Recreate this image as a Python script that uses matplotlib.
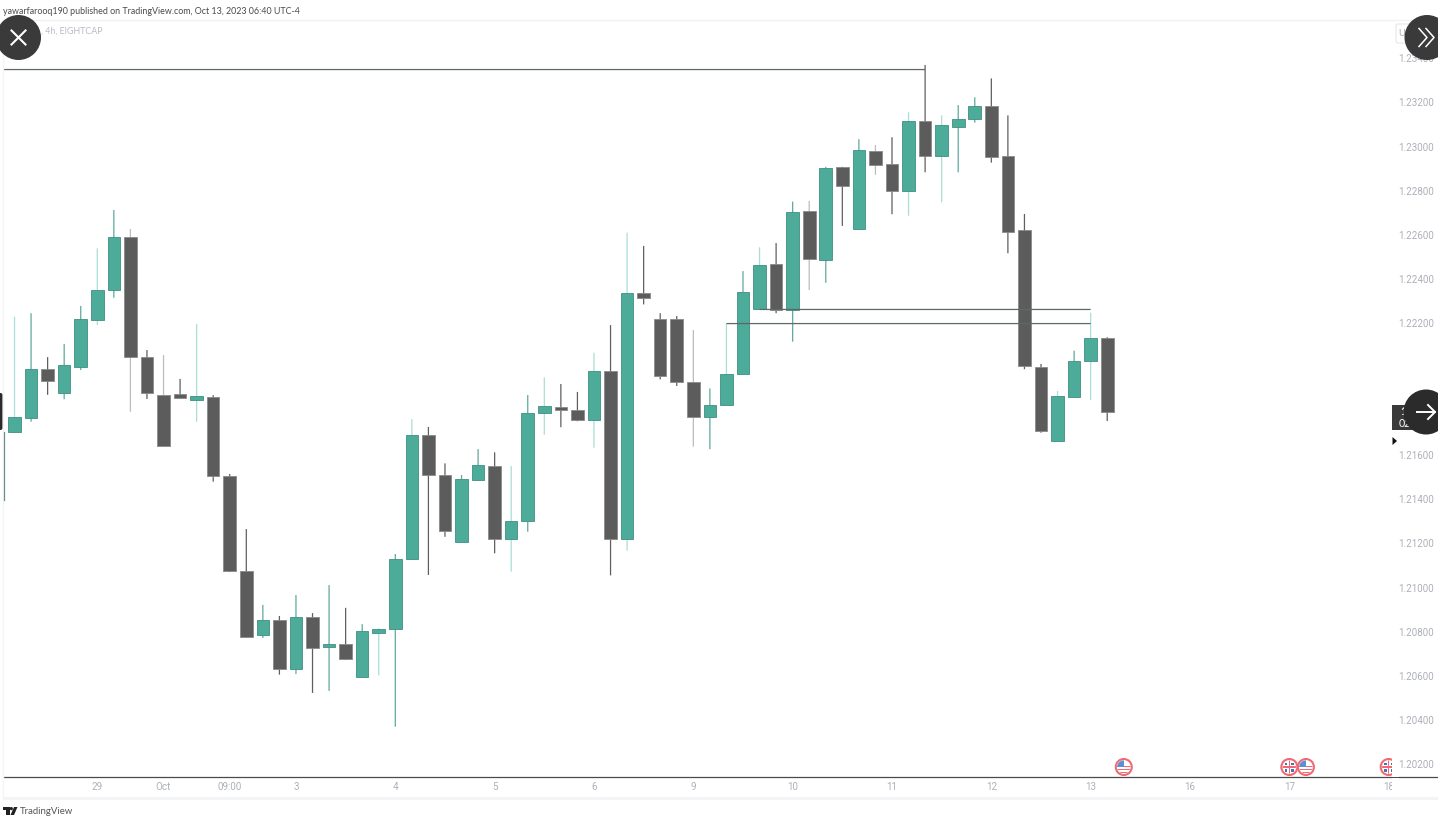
"""EURUSD-style 4h candlestick chart, TradingView snapshot look."""
import numpy as np
import matplotlib
matplotlib.use("Agg")
import matplotlib.pyplot as plt
from matplotlib.patches import Circle, FancyBboxPatch, Polygon, Rectangle

W, H = 1438, 822

# ---- data: one entry per 4h candle ------------------------------------------
opens = [1.21707, 1.21770, 1.21991, 1.21883, 1.22001, 1.22215, 1.22348, 1.22588, 1.22045, 1.21873,
         1.21876, 1.21852, 1.21864, 1.21506, 1.21075, 1.20785, 1.20854, 1.20632, 1.20868, 1.20732,
         1.20745, 1.20595, 1.20795, 1.20810, 1.21129, 1.21690, 1.21510, 1.21208, 1.21489, 1.21551,
         1.21221, 1.21303, 1.21793, 1.21820, 1.21804, 1.21758, 1.21980, 1.21221, 1.22334, 1.22219,
         1.22219, 1.21932, 1.21772, 1.21826, 1.21970, 1.22262, 1.22467, 1.22259, 1.22708, 1.22487,
         1.22906, 1.22626, 1.22980, 1.22919, 1.22800, 1.23116, 1.22958, 1.23090, 1.23126, 1.23184,
         1.22957, 1.22620, 1.22001, 1.21666, 1.21865, 1.22027, 1.22130]
highs = [1.22228, 1.22244, 1.22045, 1.22104, 1.22277, 1.22538, 1.22712, 1.22626, 1.22077, 1.22054,
         1.21946, 1.22195, 1.21872, 1.21515, 1.21265, 1.20921, 1.20871, 1.20966, 1.20884, 1.21011,
         1.20908, 1.20834, 1.20816, 1.21152, 1.21763, 1.21728, 1.21563, 1.21510, 1.21628, 1.21613,
         1.21551, 1.21873, 1.21953, 1.21923, 1.21887, 1.22065, 1.22190, 1.22609, 1.22549, 1.22244,
         1.22231, 1.22168, 1.21903, 1.22198, 1.22435, 1.22543, 1.22562, 1.22750, 1.22753, 1.22908,
         1.22908, 1.23033, 1.23007, 1.23042, 1.23155, 1.23370, 1.23141, 1.23188, 1.23223, 1.23309,
         1.23141, 1.22694, 1.22014, 1.21891, 1.22074, 1.22246, 1.22135]
lows = [1.21702, 1.21752, 1.21874, 1.21854, 1.21986, 1.22190, 1.22314, 1.21797, 1.21855, 1.21637,
        1.21859, 1.21752, 1.21480, 1.21070, 1.20772, 1.20771, 1.20605, 1.20608, 1.20522, 1.20531,
        1.20671, 1.20594, 1.20602, 1.20369, 1.21125, 1.21057, 1.21230, 1.21208, 1.21484, 1.21155,
        1.21072, 1.21253, 1.21693, 1.21727, 1.21754, 1.21634, 1.21055, 1.21167, 1.22284, 1.21944,
        1.21914, 1.21639, 1.21627, 1.21826, 1.21970, 1.22262, 1.22244, 1.22115, 1.22349, 1.22382,
        1.22640, 1.22626, 1.22872, 1.22693, 1.22686, 1.22883, 1.22747, 1.22883, 1.23108, 1.22927,
        1.22516, 1.21990, 1.21702, 1.21666, 1.21865, 1.21850, 1.21755]
closes = [1.21772, 1.21990, 1.21937, 1.22008, 1.22216, 1.22351, 1.22588, 1.22047, 1.21883, 1.21642,
          1.21859, 1.21867, 1.21506, 1.21075, 1.20777, 1.20853, 1.20632, 1.20868, 1.20727, 1.20745,
          1.20676, 1.20803, 1.20810, 1.21128, 1.21690, 1.21512, 1.21258, 1.21493, 1.21554, 1.21221,
          1.21300, 1.21793, 1.21823, 1.21806, 1.21760, 1.21980, 1.21221, 1.22334, 1.22312, 1.21961,
          1.21931, 1.21772, 1.21826, 1.21967, 1.22340, 1.22463, 1.22259, 1.22704, 1.22490, 1.22901,
          1.22822, 1.22983, 1.22917, 1.22800, 1.23116, 1.22958, 1.23096, 1.23126, 1.23184, 1.22951,
          1.22614, 1.22003, 1.21710, 1.21867, 1.22027, 1.22130, 1.21796]

# horizontal levels: price, first bar, last bar
level_prices = [1.23349, 1.22261, 1.22197]
level_starts = [-0.7, 45, 43]
level_ends = [55, 65, 65]

price_ticks = [1.20200, 1.20400, 1.20600, 1.20800, 1.21000, 1.21200, 1.21400, 1.21600,
               1.21800, 1.22000, 1.22200, 1.22400, 1.22600, 1.22800, 1.23000, 1.23200, 1.23400]
hidden_price_ticks = [1.21800, 1.22000]
time_tick_bars = [5, 9, 13, 17, 23, 29, 35, 41, 47, 53, 59, 65, 71, 77, 83]
time_tick_labels = ["29", "Oct", "09:00", "3", "4", "5", "6", "9", "10", "11", "12", "13", "16", "17", "18"]

event_bars = [67, 77, 78, 83]
event_kinds = ["us", "uk", "us", "uk"]
event_price = 1.20186

# bars whose wick comes out washed-out in the snapshot
faint_wicks = [0, 5, 7, 9, 11, 22, 24, 30, 32, 35, 37, 41, 43, 45, 48, 52, 54, 56, 63, 65]

TEAL = "#4dab9a"
TEAL_EDGE = "#3f8f82"
TEAL_WICK = "#5fa99c"
TEAL_FAINT = "#aaded4"
DARK = "#5c5c5c"
DARK_EDGE = "#8a8a8a"
DARK_WICK = "#5f5f5f"
DARK_FAINT = "#bcbcbc"
TICK_GREY = "#adb0b8"
LEVEL = "#5f6868"
RED = "#ef6a75"

fig = plt.figure(figsize=(W / 100, H / 100), dpi=100, facecolor="white")
plt.rcParams["font.family"] = ["Lato", "DejaVu Sans"]


def px_rect(x0, y0, x1, y1):
    return [x0 / W, 1 - y1 / H, (x1 - x0) / W, (y1 - y0) / H]


# ---- price pane -------------------------------------------------------------
ax = fig.add_axes(px_rect(3, 20, 1392, 777))
ax.set_xlim(-0.695, 83.2)
ax.set_ylim(1.201407, 1.235737)

x = np.arange(len(opens))
o, h, l, c = map(np.asarray, (opens, highs, lows, closes))
up = c >= o
faint = np.isin(x, faint_wicks)
wick_colors = [(TEAL_FAINT if f else TEAL_WICK) if u else (DARK_FAINT if f else DARK_WICK)
               for u, f in zip(up, faint)]
ax.vlines(x, l, h, colors=wick_colors, lw=0.9, snap=False, zorder=2)
ax.bar(x[up], (c - o)[up], bottom=o[up], width=0.76, color=TEAL, edgecolor=TEAL_EDGE, lw=0.6, zorder=3)
ax.bar(x[~up], (o - c)[~up], bottom=c[~up], width=0.76, color=DARK, edgecolor=DARK_EDGE, lw=0.6, zorder=3)
for p, s, e in zip(level_prices, level_starts, level_ends):
    ax.hlines(p, s, e, color=LEVEL, lw=0.9, snap=False, zorder=4)

ax.yaxis.tick_right()
ax.set_yticks(price_ticks)
ax.set_yticklabels([f"{p:.5f}" if p not in hidden_price_ticks else "" for p in price_ticks],
                   fontsize=7.1, color=TICK_GREY, family="Roboto")
ax.set_xticks(time_tick_bars)
ax.set_xticklabels(time_tick_labels, fontsize=7.1, color=TICK_GREY, family="Roboto")
ax.tick_params(axis="both", length=0)
ax.tick_params(axis="y", pad=4.5)
ax.tick_params(axis="x", pad=3.5)
for name, sp in ax.spines.items():
    sp.set_visible(name == "bottom")
ax.spines["bottom"].set_color("#4a4a4a")
ax.spines["bottom"].set_linewidth(0.9)

# ---- chrome drawn in pixel coordinates --------------------------------------
ui = fig.add_axes([0, 0, 1, 1])
ui.set_xlim(0, W)
ui.set_ylim(H, 0)
ui.axis("off")
ui.patch.set_alpha(0)

ui.plot([3, W], [20, 20], color="#f0f1f3", lw=1)
ui.plot([3, 3], [20, 797], color="#f5f5f7", lw=1)
ui.add_patch(Rectangle((3, 797), W - 3, 2.5, color="#f3f4f6", lw=0))
ui.plot([1393, W], [777, 777], color="#4a4a4a", lw=0.9)


def flag(cx, cy, kind):
    ring = Circle((cx, cy), 8, fc="white", ec=RED, lw=1.5, zorder=5)
    ui.add_patch(ring)
    clip = Circle((cx, cy), 6.6, transform=ui.transData)
    if kind == "us":
        parts = [Rectangle((cx - 7, cy + dy), 14, 1.4, color=RED, lw=0, zorder=6) for dy in (-1, 2, 5)]
        parts.append(Rectangle((cx - 7, cy - 7), 7.5, 7, color="#5b8fd6", lw=0, zorder=7))
    else:
        parts = [Rectangle((cx + sx * 2 - (2.5 if sx < 0 else 0), cy + sy * 2 - (2.5 if sy < 0 else 0)), 2.5, 2.5,
                           color="#4d6fb5", lw=0, zorder=6)
                 for sx in (-1, 1) for sy in (-1, 1)]
        parts += [Rectangle((cx - 7, cy - 0.8), 14, 1.6, color=RED, lw=0, zorder=8),
                  Rectangle((cx - 0.8, cy - 7), 1.6, 14, color=RED, lw=0, zorder=8)]
    for part in parts:
        ui.add_patch(part)
        part.set_clip_path(clip)


for bar, kind in zip(event_bars, event_kinds):
    px, py = ax.transData.transform((bar, event_price))
    flag(px, H - py, kind)

# price scale masks whatever runs past the pane edge
ui.add_patch(Rectangle((1392, 755), 6.5, 21.5, color="white", lw=0, zorder=9))
ui.add_patch(Rectangle((1392, 778), 6.5, 18, color="white", lw=0, zorder=9))

# header and footer text
ui.text(3, 11, "yawarfarooq190 published on TradingView.com, Oct 13, 2023 06:40 UTC-4",
        fontsize=6.4, color="#4a4a4a", va="center", ha="left")
ui.text(41, 31, ", 4h, EIGHTCAP", fontsize=6.4, color="#b8bbc4", va="center", ha="left")
ui.text(20, 811, "TradingView", fontsize=6.9, color="#555555", va="center", ha="left")

# TradingView mark
ui.add_patch(Rectangle((3, 807), 6.5, 3, color="#222222", lw=0))
ui.add_patch(Rectangle((6, 807), 3.5, 8, color="#222222", lw=0))
ui.add_patch(Circle((11.3, 808.6), 1.6, color="#222222", lw=0))
ui.add_patch(Polygon([(14, 807), (17.5, 807), (14, 815), (10.5, 815)], color="#222222", lw=0))

# cut-off candle wick and the left handle
ui.plot([4, 4], [432, 500], color="#6a8f88", lw=0.9)
ui.add_patch(FancyBboxPatch((-3, 393), 5.5, 37, boxstyle="round,pad=0,rounding_size=2", fc="#2b2b2b", ec="none"))

# top-right button behind the round control
ui.add_patch(FancyBboxPatch((1396, 24), 30, 19, boxstyle="round,pad=0,rounding_size=2",
                            fc="white", ec="#e6e7ea", lw=0.8, zorder=3))
ui.text(1402, 33.5, "U", fontsize=6.6, color="#a8abb3", va="center", ha="center", zorder=4)

# last price label
ui.add_patch(Rectangle((1392, 405), 34, 25, color="#3a3a3a", lw=0, zorder=3))
ui.text(1400, 411.5, "1", fontsize=7.6, color="white", va="center", ha="left", weight="bold", zorder=4)
ui.text(1398.5, 423, "02", fontsize=7.6, color="white", va="center", ha="left", zorder=4)
ui.add_patch(Polygon([(1392.5, 437), (1397, 441), (1392.5, 445)], color="#111111", lw=0))

# round controls
ui.add_patch(Circle((18.5, 37.5), 22.5, color="#3a3a3a", lw=0, zorder=10))
ui.plot([11.5, 25.5], [30.5, 44.5], color="white", lw=1.5, zorder=11)
ui.plot([11.5, 25.5], [44.5, 30.5], color="white", lw=1.5, zorder=11)
ui.add_patch(Circle((1427, 37.5), 22.5, color="#3a3a3a", lw=0, zorder=10))
for dx in (0, 7):
    ui.plot([1419 + dx, 1427 + dx, 1419 + dx], [28.5, 37.5, 46.5], color="white", lw=1.1, zorder=11)
ui.add_patch(Circle((1426, 412), 22.5, color="#2b2b2b", lw=0, zorder=10))
ui.plot([1417, 1435], [412, 412], color="white", lw=1.4, zorder=11)
ui.plot([1428, 1435, 1428], [405, 412, 419], color="white", lw=1.4, zorder=11)

fig.savefig("out.png", dpi=100, facecolor="white")
plt.close(fig)
